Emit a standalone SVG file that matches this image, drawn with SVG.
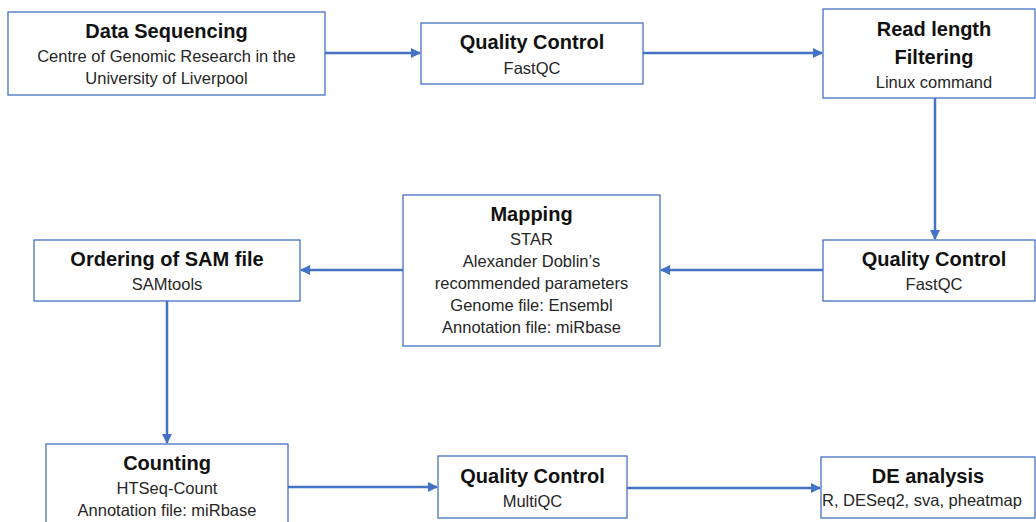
<svg xmlns="http://www.w3.org/2000/svg" width="1036" height="522" viewBox="0 0 1036 522">
<defs>
<style>
.box{fill:#fff;stroke:#4472C4;stroke-width:1.3}
.t{font-family:"Liberation Sans",Arial,sans-serif;font-weight:bold;font-size:20px;fill:#111;text-anchor:middle}
.s{font-family:"Liberation Sans",Arial,sans-serif;font-size:16.5px;fill:#262626;text-anchor:middle}
.c{stroke:#4472C4;stroke-width:2.5;fill:none;marker-end:url(#ah)}
</style>
<marker id="ah" viewBox="0 0 10 10" refX="9" refY="5" markerWidth="4" markerHeight="4" orient="auto" markerUnits="strokeWidth">
<path d="M0,0 L10,5 L0,10 z" fill="#4472C4"/>
</marker>
</defs>
<rect width="1036" height="522" fill="#fff"/>
<g id="connectors">
<line class="c" x1="325" y1="53" x2="420" y2="53"/>
<line class="c" x1="643" y1="53" x2="822" y2="53"/>
<line class="c" x1="935" y1="98" x2="935" y2="239"/>
<line class="c" x1="823" y1="270" x2="661" y2="270"/>
<line class="c" x1="403" y1="270" x2="301" y2="270"/>
<line class="c" x1="167" y1="301" x2="167" y2="443"/>
<line class="c" x1="288" y1="487" x2="437" y2="487"/>
<line class="c" x1="627" y1="488" x2="820" y2="488"/>
</g>
<g id="n1">
<rect class="box" x="8" y="12" width="317" height="83"/>
<text class="t" x="166.5" y="38">Data Sequencing</text>
<text class="s" x="166.5" y="62">Centre of Genomic Research in the</text>
<text class="s" x="166.5" y="84">University of Liverpool</text>
</g>
<g id="n2">
<rect class="box" x="421" y="23" width="222" height="61"/>
<text class="t" x="532" y="49">Quality Control</text>
<text class="s" x="532" y="74">FastQC</text>
</g>
<g id="n3">
<rect class="box" x="823" y="9" width="212" height="89"/>
<text class="t" x="934" y="36">Read length</text>
<text class="t" x="934" y="64">Filtering</text>
<text class="s" x="934" y="88">Linux command</text>
</g>
<g id="n4">
<rect class="box" x="823" y="240" width="212" height="61"/>
<text class="t" x="934" y="266">Quality Control</text>
<text class="s" x="934" y="290">FastQC</text>
</g>
<g id="n5">
<rect class="box" x="403" y="195" width="257" height="151"/>
<text class="t" x="531.5" y="221">Mapping</text>
<text class="s" x="531.5" y="245">STAR</text>
<text class="s" x="531.5" y="267">Alexander Doblin’s</text>
<text class="s" x="531.5" y="289">recommended parameters</text>
<text class="s" x="531.5" y="311">Genome file: Ensembl</text>
<text class="s" x="531.5" y="333">Annotation file: miRbase</text>
</g>
<g id="n6">
<rect class="box" x="34" y="240" width="266" height="61"/>
<text class="t" x="167" y="266">Ordering of SAM file</text>
<text class="s" x="167" y="290">SAMtools</text>
</g>
<g id="n7">
<rect class="box" x="46" y="444" width="242" height="90"/>
<text class="t" x="167" y="470">Counting</text>
<text class="s" x="167" y="494">HTSeq-Count</text>
<text class="s" x="167" y="516">Annotation file: miRbase</text>
</g>
<g id="n8">
<rect class="box" x="438" y="456" width="189" height="62"/>
<text class="t" x="532.5" y="483">Quality Control</text>
<text class="s" x="532.5" y="507">MultiQC</text>
</g>
<g id="n9">
<rect class="box" x="821" y="457" width="214" height="61"/>
<text class="t" x="928" y="483">DE analysis</text>
<text class="s" x="922" y="506">R, DESeq2, sva, pheatmap</text>
</g>
</svg>
